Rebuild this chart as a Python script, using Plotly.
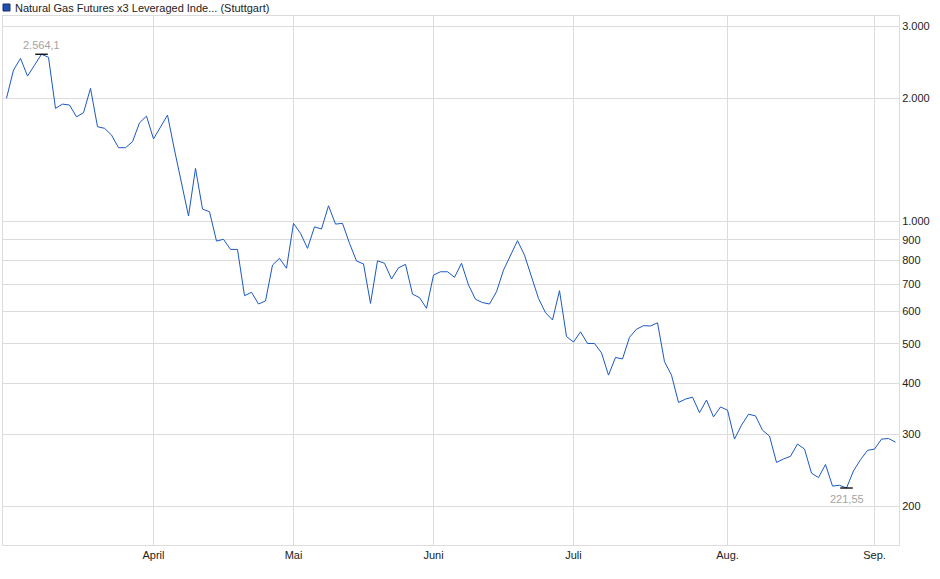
import numpy as np
import plotly.graph_objects as go

# daily closing values (Stuttgart)
values = [2000, 2345, 2505, 2267, 2410, 2564.1, 2520, 1889, 1935, 1925,
          1801, 1843, 2115, 1703, 1688, 1625, 1513, 1513, 1565, 1741,
          1808, 1590, 1700, 1819, 1493, 1237, 1029, 1346, 1070, 1054,
          893, 902, 852, 852, 656, 669, 626, 637, 780, 810,
          766, 987, 933, 857, 968, 956, 1090, 983, 987, 882,
          798, 785, 628, 799, 788, 721, 768, 783, 662, 649,
          611, 737, 751, 751, 728, 788, 697, 643, 631, 626,
          671, 758, 825, 895, 825, 730, 646, 596, 572, 675,
          521, 505, 535, 501, 501, 475, 419, 463, 459, 519,
          543, 554, 553, 563, 452, 419, 359, 366, 370, 339,
          364, 331, 350, 344, 292, 316, 336, 333, 307, 297,
          256, 261, 265, 284, 276, 241, 235, 253, 224, 225,
          221.55, 244, 260, 274, 276, 292, 293, 287]
days = list(range(len(values)))

# first trading day of each month (index into values) and its label
month_idx = [21, 41, 61, 81, 103, 124]
month_labels = ["April", "Mai", "Juni", "Juli", "Aug.", "Sep."]

y_ticks = [200, 300, 400, 500, 600, 700, 800, 900, 1000, 2000, 3000]
y_labels = ["200", "300", "400", "500", "600", "700", "800", "900", "1.000", "2.000", "3.000"]

series_name = "Natural Gas Futures x3 Leveraged Inde... (Stuttgart)"
line_color = "#1c58c4"
grid = "#dcdcdc"
font = "Liberation Sans, Arial, sans-serif"

i_max = int(np.argmax(values))
i_min = int(np.argmin(values))

fig = go.Figure()
fig.add_trace(go.Scatter(x=days, y=values, mode="lines",
                         line=dict(color=line_color, width=1),
                         hoverinfo="skip", showlegend=False))
# little black markers at high / low
fig.add_trace(go.Scatter(x=[i_max, i_min], y=[values[i_max], values[i_min]],
                         mode="markers",
                         marker=dict(symbol="line-ew", size=9,
                                     line=dict(color="black", width=1.3)),
                         hoverinfo="skip", showlegend=False))

fig.add_annotation(x=i_max, y=np.log10(values[i_max]), text="2.564,1",
                   showarrow=False, yshift=9, font=dict(size=11, color="#a3a3a3", family=font))
fig.add_annotation(x=i_min, y=np.log10(values[i_min]), text="221,55",
                   showarrow=False, yshift=-11, font=dict(size=11, color="#a3a3a3", family=font))

# legend box + text
fig.add_shape(type="rect", xref="paper", yref="paper", xsizemode="pixel", ysizemode="pixel",
              xanchor=0, yanchor=1, x0=0, x1=7, y0=5, y1=12,
              fillcolor="#1f4fb0", line=dict(color="#15306a", width=1))
fig.add_annotation(xref="paper", yref="paper", x=0, y=1, xanchor="left", yanchor="middle",
                   xshift=10, yshift=8.5, text=series_name, showarrow=False,
                   font=dict(size=11, color="#222222", family=font))

fig.update_layout(
    width=940, height=579,
    margin=dict(l=3, r=41, t=16, b=34),
    paper_bgcolor="white", plot_bgcolor="white",
    font=dict(family=font, size=11, color="#222222"),
)
fig.update_xaxes(range=[-0.5, len(values) - 0.5], tickmode="array",
                 tickvals=month_idx, ticktext=month_labels,
                 showgrid=True, gridcolor=grid, gridwidth=1,
                 showline=True, linecolor=grid, mirror=True,
                 ticks="", zeroline=False, tickfont=dict(size=11))
fig.update_yaxes(type="log", range=[np.log10(160.6), np.log10(3182)], side="right",
                 tickmode="array", tickvals=y_ticks, ticktext=y_labels,
                 showgrid=True, gridcolor=grid, gridwidth=1,
                 showline=True, linecolor=grid, mirror=True,
                 ticks="", zeroline=False, tickfont=dict(size=11))

# page has a default 8px body margin; drop it so the chart sits at 0,0
fig.write_html("out.html", config={"displayModeBar": False},
               post_script="document.body.style.margin='0';")
